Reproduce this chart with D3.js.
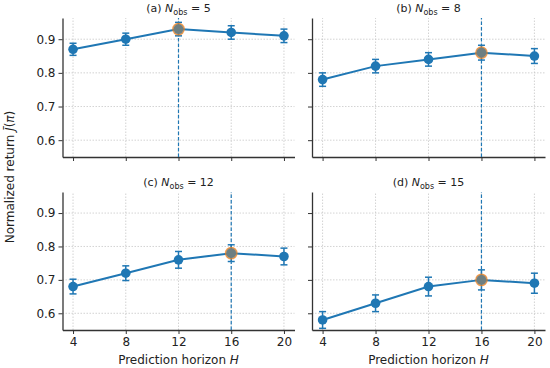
<!DOCTYPE html>
<html>
<head>
<meta charset="utf-8">
<script src="https://cdn.jsdelivr.net/npm/d3@7"></script>
<style>
  body { margin: 0; background: #fff; }
  svg { font-family: "DejaVu Sans", sans-serif; }
</style>
</head>
<body>
<svg id="chart" width="550" height="368"></svg>
<script>
const horizons = [4, 8, 12, 16, 20];
const panelLabels = ["(a)", "(b)", "(c)", "(d)"];
const nObs = [5, 8, 12, 15];
const meanA = [0.87, 0.90, 0.93, 0.92, 0.91];
const meanB = [0.78, 0.82, 0.84, 0.86, 0.85];
const meanC = [0.68, 0.72, 0.76, 0.78, 0.77];
const meanD = [0.58, 0.63, 0.68, 0.70, 0.69];
const errA = [0.018, 0.018, 0.02, 0.02, 0.02];
const errB = [0.02, 0.02, 0.02, 0.022, 0.022];
const errC = [0.022, 0.022, 0.025, 0.025, 0.025];
const errD = [0.025, 0.025, 0.028, 0.03, 0.03];
const bestH = [12, 16, 16, 16];
const yTicks = [0.6, 0.7, 0.8, 0.9];

const means = [meanA, meanB, meanC, meanD];
const errs = [errA, errB, errC, errD];

const blue = "#1f77b4";
const orange = "#ff7f0e";
const svg = d3.select("#chart");

// panel boxes: columns [left, right], rows [top, bottom]
const cols = [[62.5, 294.5], [312, 545]];
const rows = [[18, 157], [192, 330]];

const x0 = d3.scaleLinear().domain([3.2, 20.8]);
const y0 = d3.scaleLinear().domain([0.55, 0.963]);

means.forEach((m, i) => {
  const col = i % 2, row = Math.floor(i / 2);
  const x = x0.copy().range(cols[col]);
  const y = y0.copy().range([rows[row][1], rows[row][0]]);
  const g = svg.append("g");

  // grid
  g.selectAll(".gx").data(horizons).join("line")
    .attr("x1", d => x(d)).attr("x2", d => x(d))
    .attr("y1", y.range()[0]).attr("y2", y.range()[1])
    .attr("stroke", "#c8c8c8").attr("stroke-width", 0.8).attr("stroke-dasharray", "1.5,1.5");
  g.selectAll(".gy").data(yTicks).join("line")
    .attr("x1", x.range()[0]).attr("x2", x.range()[1])
    .attr("y1", d => y(d)).attr("y2", d => y(d))
    .attr("stroke", "#c8c8c8").attr("stroke-width", 0.8).attr("stroke-dasharray", "1.5,1.5");

  // axes (left + bottom spines only)
  const xAxis = d3.axisBottom(x).tickValues(horizons).tickSize(4).tickPadding(3).tickSizeOuter(0)
    .tickFormat(row === 1 ? d3.format("d") : () => "");
  const yAxis = d3.axisLeft(y).tickValues(yTicks).tickSize(4).tickPadding(3).tickSizeOuter(0)
    .tickFormat(col === 0 ? d3.format(".1f") : () => "");
  const gx = g.append("g").attr("transform", `translate(0,${y.range()[0]})`).call(xAxis);
  const gy = g.append("g").attr("transform", `translate(${x.range()[0]},0)`).call(yAxis);
  [gx, gy].forEach(a => {
    a.select(".domain").attr("stroke", "#333").attr("stroke-width", 1.3);
    a.selectAll(".tick line").attr("stroke", "#333").attr("stroke-width", 1);
    a.selectAll(".tick text").attr("fill", "#222").attr("font-size", 12)
      .attr("font-family", "DejaVu Sans");
  });

  // best horizon marker line
  g.append("line")
    .attr("x1", x(bestH[i])).attr("x2", x(bestH[i]))
    .attr("y1", y.range()[0]).attr("y2", y.range()[1])
    .attr("stroke", blue).attr("stroke-width", 1.2).attr("stroke-dasharray", "3.5,2");

  const pts = horizons.map((h, k) => ({ h, v: m[k], e: errs[i][k] }));

  // line
  g.append("path").datum(pts)
    .attr("fill", "none").attr("stroke", blue).attr("stroke-width", 2)
    .attr("d", d3.line().x(d => x(d.h)).y(d => y(d.v)));

  // error bars
  const eb = g.selectAll(".eb").data(pts).join("g").attr("stroke", blue).attr("stroke-width", 1.5);
  eb.append("line").attr("x1", d => x(d.h)).attr("x2", d => x(d.h))
    .attr("y1", d => y(d.v - d.e)).attr("y2", d => y(d.v + d.e));
  eb.append("line").attr("x1", d => x(d.h) - 3.5).attr("x2", d => x(d.h) + 3.5)
    .attr("y1", d => y(d.v - d.e)).attr("y2", d => y(d.v - d.e));
  eb.append("line").attr("x1", d => x(d.h) - 3.5).attr("x2", d => x(d.h) + 3.5)
    .attr("y1", d => y(d.v + d.e)).attr("y2", d => y(d.v + d.e));

  // markers
  g.selectAll(".mk").data(pts).join("circle")
    .attr("cx", d => x(d.h)).attr("cy", d => y(d.v)).attr("r", 4.8)
    .attr("fill", blue);

  // highlighted best point
  const best = pts.find(d => d.h === bestH[i]);
  g.append("circle").attr("cx", x(best.h)).attr("cy", y(best.v)).attr("r", 5.8)
    .attr("fill", "#8a8270").attr("fill-opacity", 0.75)
    .attr("stroke", orange).attr("stroke-opacity", 0.65).attr("stroke-width", 1.2);

  // title
  const t = g.append("text")
    .attr("x", (x.range()[0] + x.range()[1]) / 2)
    .attr("y", rows[row][0] - 6)
    .attr("text-anchor", "middle").attr("font-size", 11).attr("fill", "#222");
  t.append("tspan").text(panelLabels[i] + " ");
  t.append("tspan").attr("font-style", "italic").text("N");
  t.append("tspan").attr("font-size", 8).attr("dy", 2.5).text("obs");
  t.append("tspan").attr("dy", -2.5).text(" = " + nObs[i]);

  if (row === 1) {
    const xl = g.append("text")
      .attr("x", (x.range()[0] + x.range()[1]) / 2).attr("y", 364)
      .attr("text-anchor", "middle").attr("font-size", 12).attr("fill", "#222");
    xl.append("tspan").text("Prediction horizon ");
    xl.append("tspan").attr("font-style", "italic").text("H");
  }
});

const yl = svg.append("text")
  .attr("transform", "translate(14,177) rotate(-90)")
  .attr("text-anchor", "middle").attr("font-size", 12).attr("fill", "#222");
yl.append("tspan").text("Normalized return ");
yl.append("tspan").attr("font-style", "italic").text("J\u0304");
yl.append("tspan").text("(");
yl.append("tspan").attr("font-style", "italic").text("\u03c0");
yl.append("tspan").text(")");
</script>
</body>
</html>
